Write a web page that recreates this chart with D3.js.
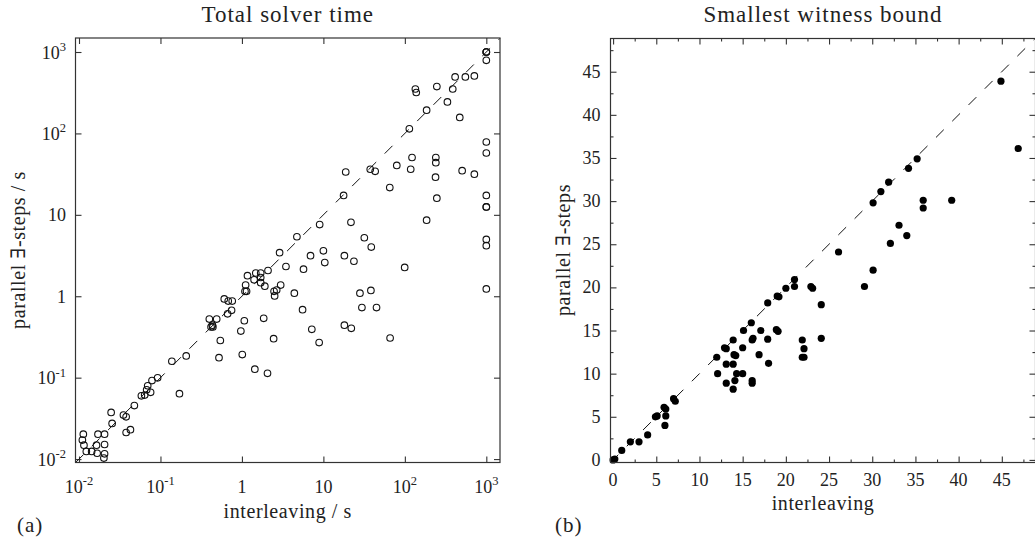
<!DOCTYPE html>
<html lang="en">
<head>
<meta charset="UTF-8">
<title>Total solver time / Smallest witness bound</title>
<style>
body { margin: 0; background: #fff; }
svg text { font-family: "Liberation Serif", "DejaVu Serif", serif; fill: #222; }
.frame { fill: none; stroke: #333; stroke-width: 1.2; }
.axis path { display: none; }
.axis line { stroke: #333; stroke-width: 1.1; }
.diag { fill: none; stroke: #111; stroke-width: 1; stroke-dasharray: 11 12; }
</style>
</head>
<body>
<div id="chart"></div>
<script src="https://d3js.org/d3.v7.min.js"></script>
<script>
// (a) total solver time, seconds
var timeInterleaving = [1000, 1000, 1000, 1000, 414, 553, 713, 134.6, 138, 247, 387, 333, 185, 472, 113.5,
    1000, 1000, 122.5, 240, 240, 79.6, 118, 37.6, 43.2, 18.8, 505, 713, 238, 65.3, 247, 1000, 1000, 1000,
    17.7, 185, 21.8, 9.0, 4.73, 31.8, 38.7, 1000, 1000, 2.90, 10.0, 6.95, 18.1, 10.4, 23.7, 99.5, 3.47,
    5.70, 2.09, 1.48, 1.17, 1.70, 1.70, 1.41, 1.70, 1.11, 1.91, 1.14, 1.09, 2.67, 2.48, 2.52, 2.99, 4.40,
    1000, 38.3, 28.1, 5.55, 29.7, 44.9, 7.21, 8.87, 18.1, 22.0, 65.9, 2.45, 1.85, 1.07, 0.97, 0.543,
    0.523, 1.01, 1.44, 2.06, 0.607, 0.679, 0.760, 0.746, 0.667, 0.398, 0.490, 0.434, 0.418, 0.44, 0.207,
    0.138, 0.171, 0.0923, 0.0787, 0.0697, 0.0677, 0.0757, 0.0640, 0.0583, 0.0478, 0.0351, 0.0379, 0.0248,
    0.0255, 0.0379, 0.0428, 0.0113, 0.0110, 0.0115, 0.0123, 0.0143, 0.0164, 0.0171, 0.0206, 0.0206,
    0.0167, 0.0206, 0.0202];
var timeParallel = [1000, 1000, 1000, 791, 494, 494, 509, 351, 318, 376, 351, 244, 193, 157, 114,
    78.5, 57.5, 50.6, 50.6, 43.7, 40.5, 36.3, 36.3, 34.2, 33.6, 34.9, 31.6, 29.0, 21.6, 16.0, 17.3, 12.5, 12.5,
    17.3, 8.6, 8.1, 7.6, 5.38, 5.23, 4.02, 4.99, 4.18, 3.43, 3.61, 3.15, 3.15, 2.59, 2.69, 2.26, 2.32,
    2.15, 2.07, 1.93, 1.79, 1.93, 1.70, 1.59, 1.47, 1.37, 1.33, 1.15, 1.15, 1.19, 1.15, 1.01, 1.37, 1.09,
    1.23, 1.18, 1.09, 0.684, 0.726, 0.726, 0.392, 0.270, 0.441, 0.404, 0.307, 0.301, 0.535, 0.500, 0.373, 0.286,
    0.176, 0.192, 0.127, 0.113, 0.927, 0.873, 0.873, 0.671, 0.608, 0.525, 0.525, 0.441, 0.420, 0.42, 0.185,
    0.159, 0.0635, 0.0995, 0.0920, 0.0796, 0.0708, 0.0661, 0.0611, 0.0599, 0.0454, 0.0347, 0.0330, 0.0374,
    0.0274, 0.0212, 0.0230, 0.0202, 0.0171, 0.0148, 0.0124, 0.0124, 0.0148, 0.0202, 0.0202, 0.0151,
    0.0118, 0.0116, 0.0103];

// (b) smallest witness bound
var boundInterleaving = [0, 0.2, 1, 2, 3, 4, 4.9, 5.1, 5.9, 6.1, 6.1, 6, 7, 7.2, 12, 12.1, 12.9, 13.1, 13.1,
    13.1, 13.9, 13.9, 14, 14.2, 14.1, 13.9, 14.3, 15.1, 15, 15, 16, 16.1, 16.2, 16.1, 16.1, 16.9, 17.1, 17.9,
    17.9, 18, 19, 19.2, 18.9, 19.1, 20, 21, 21, 21.9, 22.1, 21.9, 22.1, 22.9, 23.1, 24.1, 24.1, 26.1, 29.1,
    30.1, 30.1, 31, 31.9, 32.1, 33.1, 34, 34.2, 35.2, 35.9, 35.9, 39.2, 44.9, 46.9];
var boundParallel = [0, 0.1, 1.1, 2.1, 2.1, 2.9, 5, 5.1, 6.1, 5.9, 5.1, 4, 7.1, 6.8, 11.9, 10, 13, 12.9, 11.1,
    8.9, 13.9, 11.1, 12.2, 12.1, 9.2, 8.2, 10, 15, 13, 10, 15.9, 13.9, 14.1, 9.2, 8.9, 12.2, 15, 18.2,
    14, 11.2, 19, 18.9, 15.1, 14.9, 19.9, 20.9, 20.1, 13.9, 12.9, 11.9, 11.9, 20.1, 19.9, 18, 14.1, 24.1, 20.1,
    29.8, 22, 31.1, 32.2, 25.1, 27.2, 26, 33.8, 34.9, 30.1, 29.2, 30.1, 43.9, 36.1];

var logTicks = [0.01, 0.1, 1, 10, 100, 1000];
var logTickBase = ["10", "10", "1", "10", "10", "10"];
var logTickExp = ["-2", "-1", "", "", "2", "3"];
var linTicks = [0, 5, 10, 15, 20, 25, 30, 35, 40, 45];
var linMinor = [2.5, 7.5, 12.5, 17.5, 22.5, 27.5, 32.5, 37.5, 42.5, 47.5];

var width = 1035, height = 544;
var boxA = { left: 75.5, right: 500, top: 38, bottom: 462.5 };
var boxB = { left: 610.5, right: 1035.5, top: 38.5, bottom: 462.5 };

var svg = d3.select('#chart').append('svg').attr('width', width).attr('height', height);

// scales
var xA = d3.scaleLog().domain([Math.pow(10, -2.043), Math.pow(10, 3.168)]).range([boxA.left, boxA.right]);
var yA = d3.scaleLog().domain([Math.pow(10, -2.042), Math.pow(10, 3.172)]).range([boxA.bottom, boxA.top]);
var xB = d3.scaleLinear().domain([-0.3, 48.9]).range([boxB.left, boxB.right]);
var yB = d3.scaleLinear().domain([-0.3, 48.85]).range([boxB.bottom, boxB.top]);

function ticksAllSides(box, x, y, xv, yv, size) {
    svg.append('g').attr('class', 'axis').attr('transform', 'translate(0,' + box.bottom + ')')
        .call(d3.axisBottom(x).tickValues(xv).tickSize(-size).tickFormat(''));
    svg.append('g').attr('class', 'axis').attr('transform', 'translate(0,' + box.top + ')')
        .call(d3.axisTop(x).tickValues(xv).tickSize(-size).tickFormat(''));
    svg.append('g').attr('class', 'axis').attr('transform', 'translate(' + box.left + ',0)')
        .call(d3.axisLeft(y).tickValues(yv).tickSize(-size).tickFormat(''));
    svg.append('g').attr('class', 'axis').attr('transform', 'translate(' + box.right + ',0)')
        .call(d3.axisRight(y).tickValues(yv).tickSize(-size).tickFormat(''));
}

// ---------- (a) ----------
ticksAllSides(boxA, xA, yA, logTicks, logTicks, 6);

var diagA = [Math.max(xA.domain()[0], yA.domain()[0]), Math.min(xA.domain()[1], yA.domain()[1])];
svg.append('line').attr('class', 'diag')
    .attr('x1', xA(diagA[0])).attr('y1', yA(diagA[0]))
    .attr('x2', xA(diagA[1])).attr('y2', yA(diagA[1]));

svg.append('g').selectAll('circle')
    .data(timeInterleaving)
    .enter()
    .append('circle')
    .attr('cx', function(d) { return xA(d); })
    .attr('cy', function(d, i) { return yA(timeParallel[i]); })
    .attr('r', 3.3)
    .attr('fill', 'none')
    .attr('stroke', '#111')
    .attr('stroke-width', 1.1);

svg.append('rect').attr('class', 'frame')
    .attr('x', boxA.left).attr('y', boxA.top)
    .attr('width', boxA.right - boxA.left).attr('height', boxA.bottom - boxA.top);

var xLabA = svg.append('g').selectAll('text')
    .data(logTicks)
    .enter()
    .append('text')
    .attr('x', function(d) { return xA(d); })
    .attr('y', 492.5)
    .attr('text-anchor', 'middle')
    .attr('font-size', 18)
    .text(function(d, i) { return logTickBase[i]; });
xLabA.append('tspan').attr('dy', -7.5).attr('font-size', 12.5).text(function(d, i) { return logTickExp[i]; });

var yLabA = svg.append('g').selectAll('text')
    .data(logTicks)
    .enter()
    .append('text')
    .attr('x', 66)
    .attr('y', function(d) { return yA(d) + 6.5; })
    .attr('text-anchor', 'end')
    .attr('font-size', 18)
    .text(function(d, i) { return logTickBase[i]; });
yLabA.append('tspan').attr('dy', -7.5).attr('font-size', 12.5).text(function(d, i) { return logTickExp[i]; });

svg.append('text')
    .attr('x', (boxA.left + boxA.right) / 2).attr('y', 22)
    .attr('text-anchor', 'middle').attr('font-size', 23).attr('letter-spacing', 1)
    .text('Total solver time');
svg.append('text')
    .attr('x', (boxA.left + boxA.right) / 2).attr('y', 518)
    .attr('text-anchor', 'middle').attr('font-size', 20).attr('letter-spacing', 0.6)
    .text('interleaving / s');
svg.append('text')
    .attr('transform', 'translate(24.5,250) rotate(-90)')
    .attr('text-anchor', 'middle').attr('font-size', 20).attr('letter-spacing', 0.6)
    .text('parallel ∃-steps / s');
svg.append('text')
    .attr('x', 17).attr('y', 532)
    .attr('font-size', 21).attr('letter-spacing', 1)
    .text('(a)');

// ---------- (b) ----------
ticksAllSides(boxB, xB, yB, linTicks, linTicks, 6);
ticksAllSides(boxB, xB, yB, linMinor, linMinor, 3);

var diagB = [Math.max(xB.domain()[0], yB.domain()[0]), Math.min(xB.domain()[1], yB.domain()[1])];
svg.append('line').attr('class', 'diag')
    .attr('x1', xB(diagB[0])).attr('y1', yB(diagB[0]))
    .attr('x2', xB(diagB[1])).attr('y2', yB(diagB[1]));

svg.append('g').selectAll('circle')
    .data(boundInterleaving)
    .enter()
    .append('circle')
    .attr('cx', function(d) { return xB(d); })
    .attr('cy', function(d, i) { return yB(boundParallel[i]); })
    .attr('r', 3.6)
    .attr('fill', '#000');

svg.append('rect').attr('class', 'frame')
    .attr('x', boxB.left).attr('y', boxB.top)
    .attr('width', boxB.right - boxB.left).attr('height', boxB.bottom - boxB.top);

svg.append('g').selectAll('text')
    .data(linTicks)
    .enter()
    .append('text')
    .attr('x', function(d) { return xB(d); })
    .attr('y', 486)
    .attr('text-anchor', 'middle')
    .attr('font-size', 18)
    .text(function(d) { return d; });

svg.append('g').selectAll('text')
    .data(linTicks)
    .enter()
    .append('text')
    .attr('x', 600.5)
    .attr('y', function(d) { return yB(d) + 6; })
    .attr('text-anchor', 'end')
    .attr('font-size', 18)
    .text(function(d) { return d; });

svg.append('text')
    .attr('x', (boxB.left + boxB.right) / 2).attr('y', 22)
    .attr('text-anchor', 'middle').attr('font-size', 23).attr('letter-spacing', 1)
    .text('Smallest witness bound');
svg.append('text')
    .attr('x', (boxB.left + boxB.right) / 2).attr('y', 510)
    .attr('text-anchor', 'middle').attr('font-size', 20).attr('letter-spacing', 0.6)
    .text('interleaving');
svg.append('text')
    .attr('transform', 'translate(569.5,250) rotate(-90)')
    .attr('text-anchor', 'middle').attr('font-size', 20).attr('letter-spacing', 0.6)
    .text('parallel ∃-steps');
svg.append('text')
    .attr('x', 555).attr('y', 532)
    .attr('font-size', 21).attr('letter-spacing', 1)
    .text('(b)');
</script>
</body>
</html>
